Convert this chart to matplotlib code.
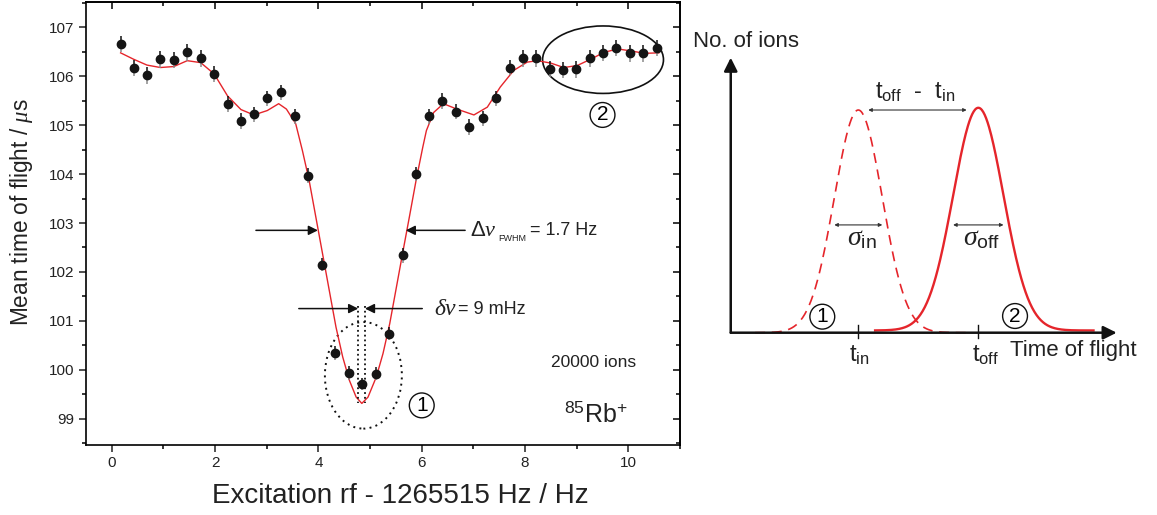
import numpy as np
import matplotlib.pyplot as plt
from matplotlib.patches import Ellipse
from matplotlib.ticker import MultipleLocator

plt.rcParams['font.family'] = 'Liberation Sans'
plt.rcParams['mathtext.fontset'] = 'custom'
plt.rcParams['mathtext.rm'] = 'Liberation Sans'
plt.rcParams['mathtext.it'] = 'Liberation Serif:italic'
plt.rcParams['mathtext.sf'] = 'Liberation Sans'

# measured mean time of flight vs. excitation frequency (offset 1265515 Hz)
freq = [0.17, 0.42, 0.68, 0.94, 1.20, 1.46, 1.72, 1.98, 2.24, 2.50,
        2.75, 3.01, 3.27, 3.54, 3.80, 4.06, 4.33, 4.59, 4.85, 5.11,
        5.37, 5.63, 5.89, 6.15, 6.40, 6.66, 6.92, 7.18, 7.44, 7.70,
        7.96, 8.22, 8.48, 8.73, 8.99, 9.25, 9.51, 9.77, 10.03, 10.29, 10.55]
tof = [106.66, 106.17, 106.02, 106.35, 106.33, 106.49, 106.37, 106.05, 105.43, 105.08,
       105.22, 105.55, 105.67, 105.18, 103.97, 102.15, 100.34, 99.93, 99.71, 99.92,
       100.74, 102.34, 104.00, 105.18, 105.50, 105.28, 104.96, 105.14, 105.55, 106.18,
       106.37, 106.37, 106.15, 106.13, 106.14, 106.37, 106.48, 106.58, 106.47, 106.47, 106.58]
tof_err = [0.17, 0.17, 0.17, 0.17, 0.16, 0.17, 0.17, 0.16, 0.16, 0.16,
           0.16, 0.16, 0.16, 0.15, 0.15, 0.14, 0.14, 0.14, 0.13, 0.14,
           0.14, 0.15, 0.15, 0.15, 0.16, 0.16, 0.16, 0.16, 0.16, 0.16,
           0.17, 0.17, 0.17, 0.17, 0.17, 0.17, 0.17, 0.17, 0.17, 0.17, 0.17]

# fitted resonance line shape
fit_freq = [0.17, 0.42, 0.68, 0.94, 1.20, 1.46, 1.72, 1.98, 2.24, 2.50,
            2.75, 3.01, 3.23, 3.38, 3.56, 3.69, 3.82, 3.95, 4.08, 4.21,
            4.34, 4.47, 4.60, 4.73, 4.84, 4.96, 5.12, 5.25, 5.38, 5.51,
            5.64, 5.76, 5.89, 6.02, 6.09, 6.23, 6.42, 6.68, 7.01, 7.27,
            7.52, 7.78, 8.04, 8.24, 8.50, 8.75, 9.01, 9.27, 9.53, 9.79,
            10.05, 10.31, 10.59]
fit_tof = [106.48, 106.35, 106.23, 106.18, 106.20, 106.32, 106.28, 106.05, 105.60, 105.32,
           105.21, 105.30, 105.44, 105.33, 105.03, 104.48, 103.87, 103.12, 102.37, 101.62,
           100.87, 100.26, 99.78, 99.44, 99.31, 99.44, 99.85, 100.33, 100.94, 101.69,
           102.44, 103.12, 103.87, 104.55, 104.89, 105.26, 105.44, 105.33, 105.21, 105.37,
           105.78, 106.12, 106.29, 106.32, 106.27, 106.18, 106.22, 106.35, 106.49, 106.56,
           106.52, 106.47, 106.48]

center = 4.84
fwhm = 1.7
shift_lines = [4.77, 4.90]

# schematic time-of-flight peaks
t_in, t_off = 1.0, 2.0
sigma_in, sigma_off = 0.2, 0.21

red = '#e5252b'
ink = '#222222'

fig = plt.figure(figsize=(11.57, 5.15), dpi=100)

# ---- left: resonance ----
ax = fig.add_axes([86 / 1157, 70.5 / 515, 594 / 1157, 442.5 / 515])
ax.set_xlim(-0.5, 11.0)
ax.set_ylim(98.47, 107.52)

f = np.array(freq)
y = np.array(tof)
e = np.array(tof_err)
ax.plot(fit_freq, fit_tof, color=red, lw=1.0, zorder=2)
ax.vlines(f, y, y + e, color='#111111', lw=1.1, zorder=3)
ax.vlines(f, y - e, y, color='#8a8a8a', lw=1.1, zorder=3)
ax.plot(f, y, 'o', color='#151515', ms=6, zorder=4)

for s in ax.spines.values():
    s.set_linewidth(1.2)
ax.xaxis.set_major_locator(MultipleLocator(2))
ax.xaxis.set_minor_locator(MultipleLocator(1))
ax.yaxis.set_major_locator(MultipleLocator(1))
ax.yaxis.set_minor_locator(MultipleLocator(0.5))
ax.tick_params(which='major', direction='out', length=5, width=1.1, labelsize=11, colors=ink)
ax.tick_params(which='minor', direction='out', length=3, width=1.1)

top = ax.secondary_xaxis('top')
right = ax.secondary_yaxis('right')
top.xaxis.set_major_locator(MultipleLocator(2))
top.xaxis.set_minor_locator(MultipleLocator(1))
right.yaxis.set_major_locator(MultipleLocator(1))
right.yaxis.set_minor_locator(MultipleLocator(0.5))
for sec in (top, right):
    sec.tick_params(which='major', direction='in', length=5, width=1.1, labeltop=False, labelright=False)
    sec.tick_params(which='minor', direction='in', length=3, width=1.1)
    for s in sec.spines.values():
        s.set_linewidth(1.2)

ax.set_xlabel('Excitation rf - 1265515 Hz / Hz', fontsize=20, color=ink)
ax.xaxis.set_label_coords(0.529, -0.087)
ax.set_ylabel(r'Mean time of flight / $\mu$s', fontsize=16.3, color=ink)
ax.yaxis.set_label_coords(-0.086, 0.525)

# FWHM arrows
y_fwhm = 102.85
arr = dict(arrowstyle='-|>', color='#111111', lw=1.1, mutation_scale=14, shrinkA=0, shrinkB=0)
ax.annotate('', xy=(center - fwhm / 2, y_fwhm), xytext=(2.79, y_fwhm), arrowprops=arr)
ax.annotate('', xy=(center + fwhm / 2, y_fwhm), xytext=(6.84, y_fwhm), arrowprops=arr)
dn = ax.text(6.94, y_fwhm, r'$\Delta\nu$', fontsize=16, va='center', ha='left', color=ink)
ax.annotate('FWHM', xy=(1, 0.12), xycoords=dn, xytext=(1, 0), textcoords='offset points',
            va='center', ha='left', fontsize=6.5, color=ink)
ax.annotate('= %.1f Hz' % fwhm, xy=(1, 0.5), xycoords=dn, xytext=(24, 0), textcoords='offset points',
            va='center', ha='left', fontsize=13, color=ink)

# shift arrows and dotted markers
y_shift = 101.25
ax.annotate('', xy=(shift_lines[0], y_shift), xytext=(3.62, y_shift), arrowprops=arr)
ax.annotate('', xy=(shift_lines[1], y_shift), xytext=(6.01, y_shift), arrowprops=arr)
for xs in shift_lines:
    ax.plot([xs, xs], [y_shift + 0.05, min(fit_tof)], ls=':', color='#111111', lw=1.3)
dl = ax.text(6.24, y_shift, r'$\delta\nu$', fontsize=17, va='center', ha='left', color=ink)
ax.annotate('= 9 mHz', xy=(1, 0.45), xycoords=dl, va='center', ha='left', fontsize=13, color=ink)

ax.add_patch(Ellipse((4.87, 99.885), 1.49, 2.18, fill=False, ls=(0, (1, 2.2)), lw=1.4, color='#111111'))
ax.add_patch(Ellipse((9.51, 106.34), 2.34, 1.38, fill=False, lw=1.2, color='#111111'))
circ = dict(boxstyle='circle,pad=0.14', fc='none', ec='#111111', lw=1.0)
ax.text(6.00, 99.27, '1', fontsize=15, ha='center', va='center', bbox=circ)
ax.text(9.50, 105.21, '2', fontsize=15, ha='center', va='center', bbox=circ)

ax.text(8.50, 100.15, '20000 ions', fontsize=12.5, va='center', ha='left', color=ink)
ax.text(9.99, 99.08, r'$^{85}$Rb$^{+}$', fontsize=18, va='center', ha='right', color=ink)

# ---- right: schematic TOF distributions ----
ax2 = fig.add_axes([690 / 1157, 0, 467 / 1157, 1])
ax2.set_xlim(-0.4025, 3.489)
ax2.set_ylim(-0.8186, 1.494)
ax2.axis('off')

x0 = -0.063
axarr = dict(arrowstyle='-|>', color='#111111', lw=1.8, mutation_scale=20, shrinkA=0, shrinkB=0)
ax2.annotate('', xy=(x0, 1.235), xytext=(x0, 0), arrowprops=axarr)
ax2.annotate('', xy=(3.153, 0), xytext=(x0, 0), arrowprops=axarr)

t1 = np.linspace(0.14, 1.93, 300)
ax2.plot(t1, np.exp(-(t1 - t_in) ** 2 / (2 * sigma_in ** 2)), color=red, lw=1.2, ls=(0, (6, 4)))
t2 = np.linspace(1.14, 2.96, 300)
ax2.plot(t2, 0.01 + np.exp(-(t2 - t_off) ** 2 / (2 * sigma_off ** 2)), color=red, lw=1.7)

for tt in (t_in, t_off):
    ax2.plot([tt, tt], [-0.024, 0.035], color='#111111', lw=1.0)
ax2.text(t_in + 0.01, -0.05, r'$\mathrm{t}_{\mathrm{in}}$', fontsize=17, ha='center', va='top', color=ink)
ax2.text(t_off + 0.06, -0.05, r'$\mathrm{t}_{\mathrm{off}}$', fontsize=17, ha='center', va='top', color=ink)
ax2.text(2.264, -0.078, 'Time of flight', fontsize=16, ha='left', va='center', color=ink)
ax2.text(-0.38, 1.307, 'No. of ions', fontsize=16, ha='left', va='center', color=ink)

small = dict(arrowstyle='<|-|>', color='#333333', lw=0.8, mutation_scale=5, shrinkA=0, shrinkB=0)
ax2.annotate('', xy=(1.903, 1.0), xytext=(1.083, 1.0), arrowprops=small)
ax2.text(1.477, 1.081, r'$\mathrm{t}_{\mathrm{off}}$  -  $\mathrm{t}_{\mathrm{in}}$', fontsize=17,
         ha='center', va='center', color=ink)

for tt, sg, lab in ((t_in, sigma_in, 'in'), (t_off, sigma_off, 'off')):
    ax2.annotate('', xy=(tt + sg, 0.484), xytext=(tt - sg, 0.484), arrowprops=small)
    ax2.text(tt + 0.03, 0.424, r'$\sigma_{\mathrm{%s}}$' % lab, fontsize=20, ha='center', va='center',
             color=ink)

ax2.text(0.70, 0.072, '1', fontsize=15, ha='center', va='center', bbox=circ)
ax2.text(2.306, 0.075, '2', fontsize=15, ha='center', va='center', bbox=circ)

fig.savefig('out.png', dpi=100)
